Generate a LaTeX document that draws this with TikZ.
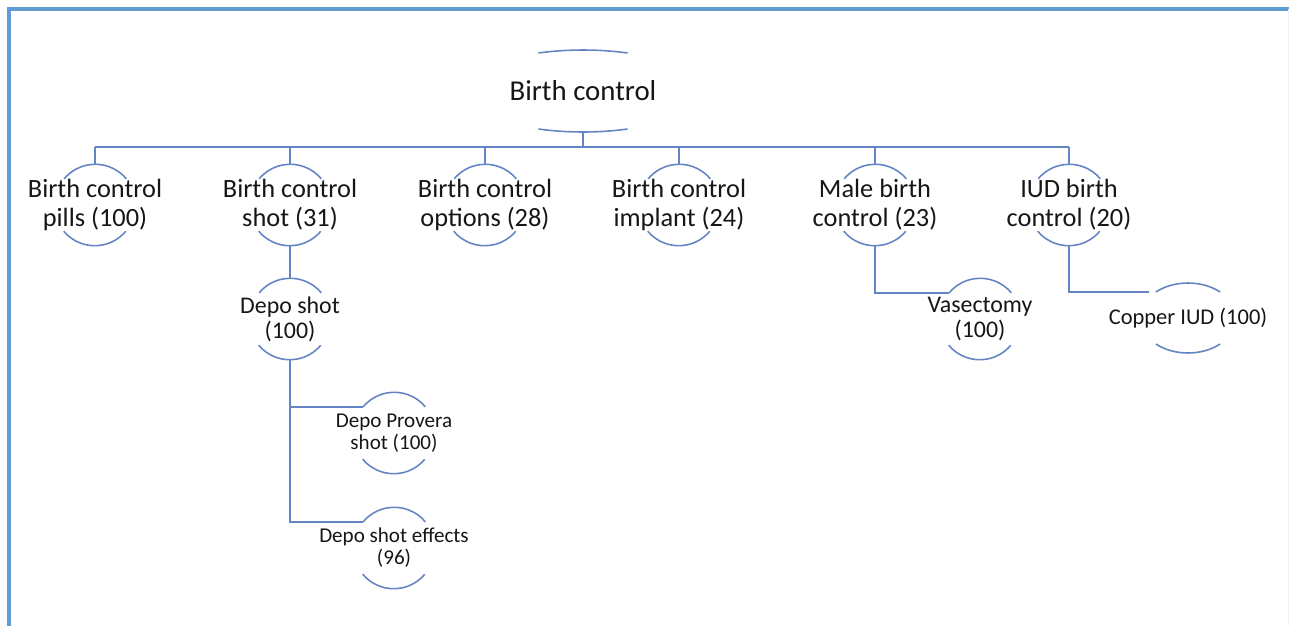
\documentclass[tikz,border=0pt]{standalone}
\usepackage{fontspec}
\setmainfont{Carlito}
\usetikzlibrary{shapes.geometric}
\definecolor{framebl}{RGB}{96,155,212}
\definecolor{linebl}{RGB}{100,133,196}
\definecolor{txt}{RGB}{22,22,22}
\tikzset{
  ring/.style={circle,minimum size=1.62cm,inner sep=0pt},
  arcline/.style={draw=linebl,line width=0.9pt},
  conn/.style={draw=linebl,line width=0.9pt},
  troot/.style={text=txt,font=\fontsize{16.4}{19}\selectfont},
  tone/.style={text=txt,align=center,font=\fontsize{15}{16.4}\selectfont},
  ttwo/.style={text=txt,align=center,font=\fontsize{13.6}{14.2}\selectfont},
  tthree/.style={text=txt,align=center,font=\fontsize{12}{12.4}\selectfont}
}
\begin{document}
\begin{tikzpicture}[x=0.02cm,y=0.02cm]
    \useasboundingbox (0,0) rectangle (1289,-626);
    % frame
    \draw[framebl,line width=1.8pt] (9,-626) -- (9,-9) -- (1289,-9);
    \draw[framebl!12,line width=0.5pt] (1288,-9) -- (1288,-626);
    % root
    \node[ellipse,minimum width=4.76cm,minimum height=1.64cm,inner sep=0pt,
      label={[troot]center:Birth control}] (root) at (583,-91) {};
    \draw[arcline] ([shift={(68:2.38cm and 0.82cm)}]root.center)
      arc[start angle=68,end angle=112,x radius=2.38cm,y radius=0.82cm];
    \draw[arcline] ([shift={(248:2.38cm and 0.82cm)}]root.center)
      arc[start angle=248,end angle=292,x radius=2.38cm,y radius=0.82cm];
    \coordinate (bus) at (583,-147);
    % first level
    \node[ring,label={[tone]center:Birth control\\pills (100)}] (pills) at (95,-205) {};
    \node[ring,label={[tone]center:Birth control\\shot (31)}] (shot) at (290,-205) {};
    \node[ring,label={[tone]center:Birth control\\options (28)}] (options) at (485,-205) {};
    \node[ring,label={[tone]center:Birth control\\implant (24)}] (implant) at (679,-205) {};
    \node[ring,label={[tone]center:Male birth\\control (23)}] (male) at (875,-205) {};
    \node[ring,label={[tone]center:IUD birth\\control (20)}] (iud) at (1069,-205) {};
    % lower levels
    \node[ring,label={[ttwo]center:Depo shot\\(100)}] (depo) at (290,-319) {};
    \node[ring,label={[tthree]center:Depo Provera\\shot (100)}] (provera) at (394,-433) {};
    \node[ring,label={[tthree]center:Depo shot effects\\(96)}] (effects) at (394,-548) {};
    \node[ring,label={[ttwo]center:Vasectomy\\(100)}] (vasect) at (980,-319) {};
    \node[ellipse,minimum width=1.92cm,minimum height=1.4cm,inner sep=0pt,
      label={[ttwo,font=\fontsize{12.8}{14}\selectfont]center:Copper IUD (100)}] (copper) at (1188,-318) {};
    \foreach \n in {pills,shot,options,implant,male,iud,depo,provera,effects,vasect} {
      \draw[arcline] (\n.40) arc[start angle=40,end angle=140,radius=0.81cm];
      \draw[arcline] (\n.220) arc[start angle=220,end angle=320,radius=0.81cm];
    }
    \draw[arcline] ([shift={(48:0.96cm and 0.7cm)}]copper.center)
      arc[start angle=48,end angle=132,x radius=0.96cm,y radius=0.7cm];
    \draw[arcline] ([shift={(228:0.96cm and 0.7cm)}]copper.center)
      arc[start angle=228,end angle=312,x radius=0.96cm,y radius=0.7cm];
    % connectors
    \draw[conn] (root.south) -- (bus);
    \draw[conn] (pills.north |- bus) -- (iud.north |- bus);
    \foreach \n in {pills,shot,options,implant,male,iud} {
      \draw[conn] (\n.north |- bus) -- (\n.north);
    }
    \draw[conn] (shot.south) -- (depo.north);
    \draw[conn] (depo.south) |- (provera.140);
    \draw[conn] (depo.south) |- (effects.140);
    \draw[conn] (male.south) |- (vasect.140);
    \draw[conn] (iud.south) |- ([xshift=-4]copper.141);
  \end{tikzpicture}
\end{document}
